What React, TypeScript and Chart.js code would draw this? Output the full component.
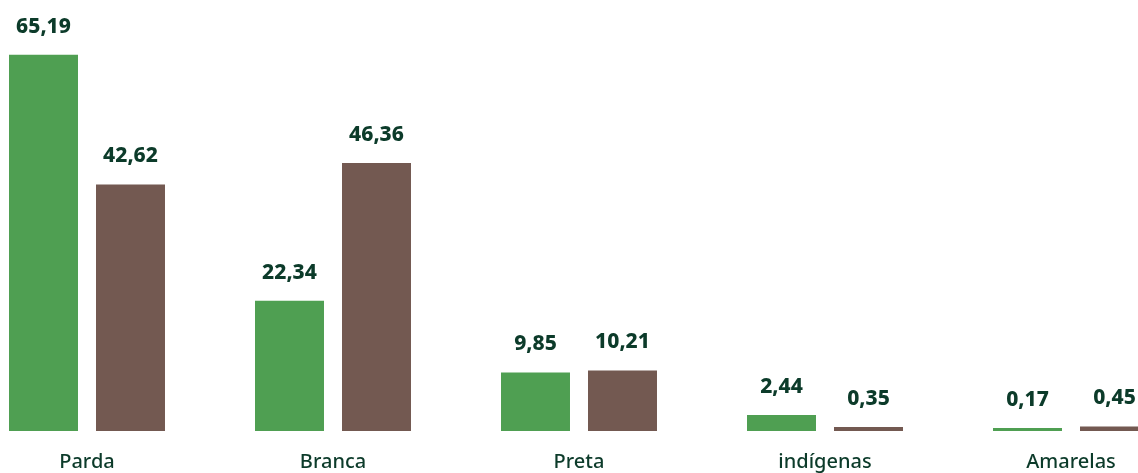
import React, { useEffect, useRef } from "react";
import { Chart, registerables } from "chart.js";

Chart.register(...registerables);

const categories = ["Parda", "Branca", "Preta", "indígenas", "Amarelas"];
const seriesA = [65.19, 22.34, 9.85, 2.44, 0.17];
const seriesB = [42.62, 46.36, 10.21, 0.35, 0.45];

const GREEN = "#4f9f52";
const BROWN = "#735951";
const TEXT = "#0c3b2a";
const BASE = -0.35;

const valueLabels = {
  id: "valueLabels",
  afterDatasetsDraw(chart: any) {
    const ctx = chart.ctx;
    ctx.save();
    ctx.font = "800 21px 'Noto Sans', sans-serif";
    ctx.fillStyle = TEXT;
    ctx.textAlign = "center";
    ctx.textBaseline = "alphabetic";
    chart.data.datasets.forEach((ds: any, i: number) => {
      const meta = chart.getDatasetMeta(i);
      meta.data.forEach((el: any, j: number) => {
        const v = ds.data[j] as number;
        ctx.fillText(v.toFixed(2).replace(".", ","), el.x, el.y - 22);
      });
    });
    ctx.restore();
  },
};

export default function App() {
  const ref = useRef<HTMLCanvasElement>(null);
  useEffect(() => {
    if (!ref.current) return;
    const chart = new Chart(ref.current, {
      type: "bar",
      data: {
        labels: categories,
        datasets: [
          { data: seriesA, backgroundColor: GREEN, base: BASE, categoryPercentage: 0.7073, barPercentage: 0.793 },
          { data: seriesB, backgroundColor: BROWN, base: BASE, categoryPercentage: 0.7073, barPercentage: 0.793 },
        ],
      },
      options: {
        animation: false,
        responsive: true,
        maintainAspectRatio: false,
        layout: { padding: 0 },
        plugins: { legend: { display: false }, tooltip: { enabled: false } },
        scales: {
          x: {
            grid: { display: false, drawTicks: false },
            border: { display: false },
            ticks: {
              autoSkip: false,
              maxRotation: 0,
              padding: 19,
              color: TEXT,
              font: { family: "'Noto Sans', sans-serif", size: 20, weight: 500 },
            },
          },
          y: { display: false, min: BASE, max: 74.75 },
        },
      },
      plugins: [valueLabels],
    });
    return () => chart.destroy();
  }, []);
  return (
    <div style={{ position: "fixed", left: 0, top: 0, width: 1138, height: 473, overflow: "hidden", background: "#fff" }}>
      <div style={{ position: "absolute", left: -36, top: 0, width: 1230, height: 493 }}>
        <canvas ref={ref} />
      </div>
    </div>
  );
}
